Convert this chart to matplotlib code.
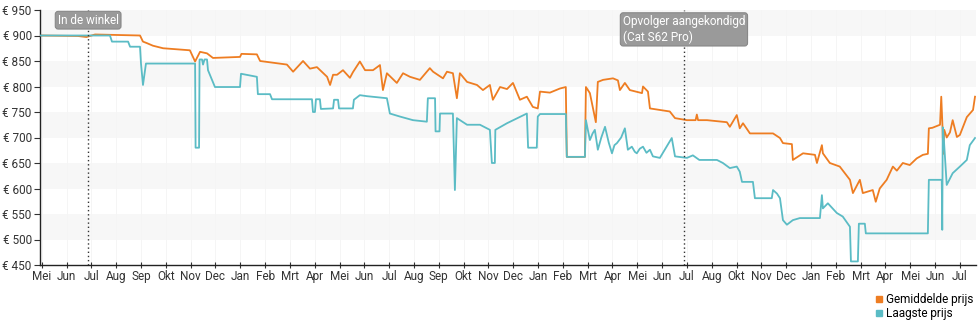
import matplotlib
matplotlib.use("Agg")
import matplotlib.pyplot as plt
from matplotlib.lines import Line2D

plt.rcParams['font.family'] = ['Roboto', 'DejaVu Sans']

# month ticks (evenly spaced, as in the source chart)
months = ['Mei', 'Jun', 'Jul', 'Aug', 'Sep', 'Okt', 'Nov', 'Dec', 'Jan', 'Feb', 'Mrt', 'Apr',
          'Mei', 'Jun', 'Jul', 'Aug', 'Sep', 'Okt', 'Nov', 'Dec', 'Jan', 'Feb', 'Mrt', 'Apr',
          'Mei', 'Jun', 'Jul', 'Aug', 'Okt', 'Nov', 'Dec', 'Jan', 'Feb', 'Mrt', 'Apr',
          'Mei', 'Jun', 'Jul']
yticks = [450, 500, 550, 600, 650, 700, 750, 800, 850, 900, 950]

# x = position in months from the first tick
avg_x = [-0.07, 1.46, 1.8, 2.15, 3.0, 3.96, 4.08, 4.24, 4.48, 4.89, 5.97, 6.18, 6.38, 6.66, 6.90,
         7.99, 8.05, 8.67, 8.80, 9.88, 10.13, 10.53, 10.81, 11.09, 11.50, 11.62, 11.74, 11.90,
         12.14, 12.42, 12.54, 12.82, 13.03, 13.35, 13.63, 13.75, 13.91, 14.31, 14.56, 14.84,
         15.24, 15.64, 15.77, 16.17, 16.33, 16.57, 16.73, 16.85, 17.14, 17.54, 17.78, 18.06,
         18.18, 18.47, 18.75, 18.99, 19.27, 19.55, 19.79, 19.99, 20.08, 20.48, 20.88, 21.12,
         21.16, 21.89, 21.93, 22.09, 22.33, 22.41, 22.62, 23.02, 23.22, 23.30, 23.50, 23.70,
         24.19, 24.23, 24.43, 24.51, 24.91, 25.31, 25.52, 26.00, 26.35, 26.40, 26.45, 26.81,
         27.61, 27.73, 28.01, 28.13, 28.26, 28.54, 29.47, 29.75, 29.87, 30.23, 30.27, 30.68,
         31.16, 31.24, 31.44, 31.48, 31.76, 32.16, 32.57, 32.69, 32.97, 33.09, 33.49, 33.61,
         33.77, 34.05, 34.30, 34.46, 34.70, 34.98, 35.26, 35.51, 35.71, 35.75, 35.89, 36.20,
         36.25, 36.30, 36.33, 36.37, 36.47, 36.60, 36.71, 36.88, 37.00, 37.28, 37.53, 37.61]
avg_y = [900, 899, 897, 902, 901, 900, 888, 885, 880, 875, 871, 849, 868, 865, 856,
         858, 864, 863, 850, 843, 829, 850, 835, 838, 819, 803, 823, 823,
         832, 817, 828, 849, 832, 832, 842, 793, 826, 807, 826, 819,
         813, 836, 829, 816, 829, 826, 777, 826, 809, 803, 793, 803,
         774, 799, 795, 807, 774, 780, 760, 757, 790, 788, 796, 799,
         662, 662, 799, 787, 730, 809, 813, 816, 812, 793, 807, 793,
         787, 800, 790, 757, 754, 751, 738, 734, 734, 745, 734, 734,
         730, 721, 744, 718, 728, 708, 708, 699, 689, 687, 656, 669,
         666, 650, 685, 669, 650, 643, 617, 591, 617, 591, 597, 574,
         600, 617, 643, 635, 650, 646, 659, 666, 668, 718, 719, 725,
         780, 720, 668, 715, 700, 710, 734, 701, 705, 740, 754, 780]

low_x = [-0.07, 2.75, 2.83, 3.48, 3.56, 3.96, 4.00, 4.08, 4.20, 6.18, 6.20, 6.34, 6.36, 6.46,
         6.50, 6.56, 6.66, 6.70, 6.98, 7.99, 8.03, 8.67, 8.71, 9.20, 9.28, 10.89, 10.93, 11.01,
         11.05, 11.21, 11.25, 11.74, 11.78, 11.94, 11.98, 12.54, 12.58, 12.82, 13.11, 13.91,
         14.03, 14.44, 14.96, 15.52, 15.56, 15.85, 15.87, 16.03, 16.05, 16.57, 16.65, 16.73,
         17.14, 17.66, 18.06, 18.14, 18.26, 18.28, 18.75, 19.55, 19.60, 19.95, 19.99, 20.08,
         21.12, 21.16, 21.89, 21.93, 22.09, 22.20, 22.29, 22.41, 22.55, 22.70, 22.85, 22.98,
         23.08, 23.18, 23.35, 23.50, 23.62, 23.78, 23.90, 23.98, 24.10, 24.23, 24.37, 24.51,
         24.63, 24.91, 25.39, 25.52, 26.00, 26.24, 26.50, 27.21,
         27.45, 27.73, 28.01, 28.13, 28.22, 28.66, 28.74, 29.42, 29.47, 29.63, 29.75, 29.87,
         30.03, 30.27, 30.55, 31.36, 31.44, 31.48, 31.68, 32.04, 32.28, 32.57, 32.61, 32.89,
         32.93, 33.17, 33.21, 35.71, 35.75, 36.27, 36.29, 36.31, 36.35, 36.47, 36.71, 37.00,
         37.28, 37.40, 37.61]
low_y = [900, 900, 888, 888, 878, 878, 845, 803, 845, 845, 680, 680, 853, 853,
         843, 853, 853, 832, 799, 799, 825, 819, 785, 785, 775, 775, 750, 750,
         775, 775, 756, 757, 774, 774, 757, 757, 774, 783, 781, 777,
         747, 741, 734, 731, 777, 777, 712, 712, 747, 747, 597, 738,
         725, 725, 715, 650, 650, 715, 728, 747, 680, 680, 741, 746,
         746, 662, 662, 734, 695, 708, 715, 676, 700, 721, 690, 669,
         685, 689, 700, 718, 676, 682, 672, 669, 678, 682, 670, 676,
         663, 660, 699, 663, 660, 665, 656, 656,
         650, 640, 643, 633, 613, 613, 581, 581, 597, 590, 581, 538,
         529, 538, 542, 542, 587, 561, 571, 552, 545, 525, 457, 457,
         531, 531, 512, 512, 617, 617, 519, 720, 700, 607, 630, 643,
         656, 685, 699]

events_x = [1.87, 25.88]
events_txt = ['In de winkel', 'Opvolger aangekondigd\n(Cat S62 Pro)']
events_y = [930, 912]

orange = '#ee7d22'
teal = '#5bbcc5'

fig = plt.figure(figsize=(9.8, 3.25), dpi=100)
ax = fig.add_axes([40 / 980, 1 - 265 / 325, 936 / 980, 255 / 325])

# alternating background bands
for lo in range(500, 950, 100):
    ax.axhspan(lo, lo + 50, color='#f7f7f7', zorder=0, lw=0)
for i in range(len(months)):
    ax.axvline(i, color='#f5f5f5', lw=0.7, zorder=0.5)

ax.plot(avg_x, avg_y, color=orange, lw=1.3, zorder=2)
ax.plot(low_x, low_y, color=teal, lw=1.3, zorder=3)

for ex, txt, ey in zip(events_x, events_txt, events_y):
    ax.axvline(ex, color='#333333', lw=1, ls=(0, (1, 2)), zorder=4)
    ax.text(ex, ey, txt, ha='center', va='center', multialignment='left', color='white',
            fontsize=8.5, zorder=5,
            bbox=dict(boxstyle='round,pad=0.2,rounding_size=0.25', fc='#9a9a9a', ec='#888888', lw=0.8))

ax.set_xlim(-0.07, 37.65)
ax.set_ylim(450, 950)
ax.set_xticks(range(len(months)))
ax.set_xticklabels(months)
ax.set_yticks(yticks)
ax.set_yticklabels(['€ %d' % v for v in yticks])
ax.tick_params(axis='x', direction='inout', length=5, width=0.8, labelsize=8.5, pad=1, colors='#333333')
ax.tick_params(axis='y', direction='out', length=4, width=0.8, labelsize=8.5, pad=2, colors='#333333')
for s in ['top', 'right']:
    ax.spines[s].set_visible(False)
for s in ['left', 'bottom']:
    ax.spines[s].set_color('#222222')
    ax.spines[s].set_linewidth(1)

handles = [Line2D([], [], marker='s', ls='', color=orange, markersize=5),
           Line2D([], [], marker='s', ls='', color=teal, markersize=5)]
fig.legend(handles, ['Gemiddelde prijs', 'Laagste prijs'], loc='upper right',
           bbox_to_anchor=(978 / 980, 1 - 288 / 325), frameon=False, fontsize=8.5,
           handletextpad=0.1, labelspacing=0.15, borderaxespad=0, handlelength=1)

fig.savefig('out.png', dpi=100)
